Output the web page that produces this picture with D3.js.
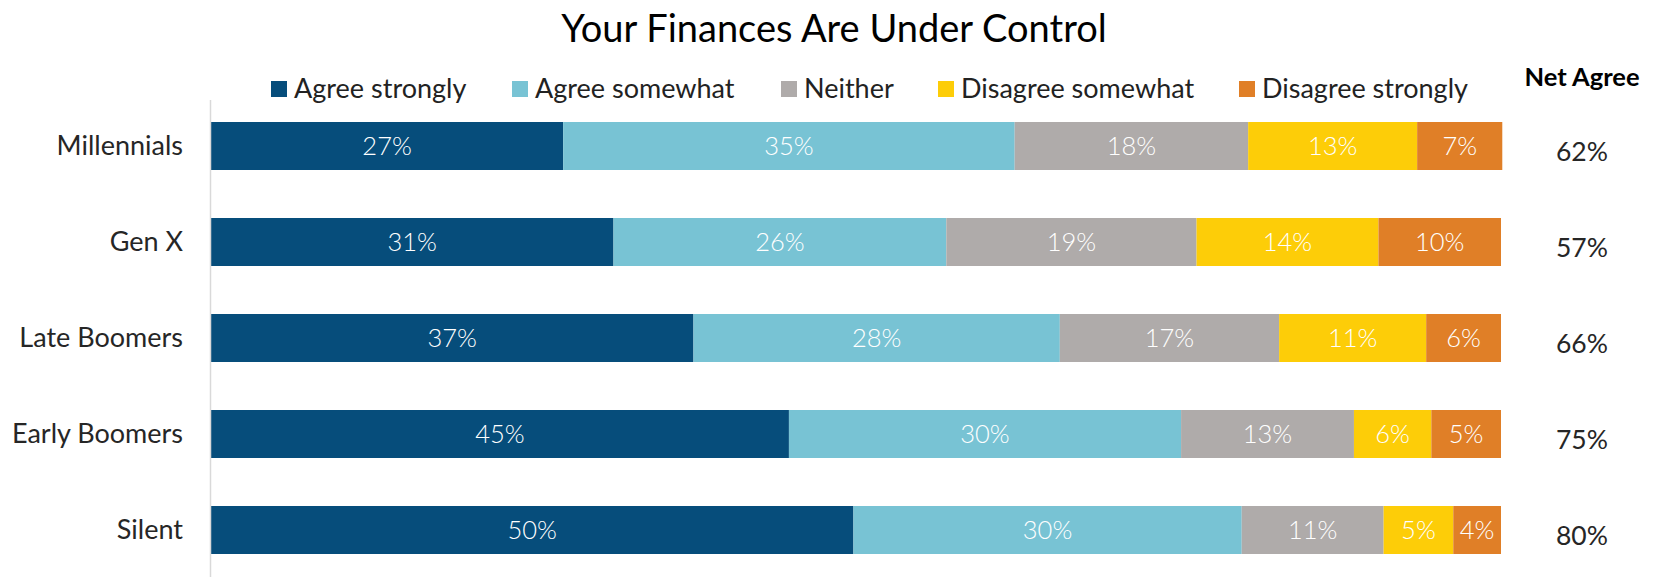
<!DOCTYPE html>
<html>
<head>
<meta charset="utf-8">
<script src="https://cdn.jsdelivr.net/npm/d3@7"></script>
<style>
  body { margin: 0; background: #fff; }
  text { font-family: Lato, "Open Sans", sans-serif; }
</style>
</head>
<body>
<div id="chart"></div>
<script>
var width = 1654, height = 577;

var groups = ["Millennials", "Gen X", "Late Boomers", "Early Boomers", "Silent"];
var responses = ["Agree strongly", "Agree somewhat", "Neither", "Disagree somewhat", "Disagree strongly"];
// shares (labels show them rounded)
var agreeStrongly    = [27.3, 31.2, 37.4, 44.8, 49.8];
var agreeSomewhat    = [35.0, 25.8, 28.4, 30.4, 30.1];
var neither          = [18.1, 19.4, 17.0, 13.4, 11.0];
var disagreeSomewhat = [13.1, 14.1, 11.4, 6.0, 5.4];
var disagreeStrongly = [6.6, 9.5, 5.8, 5.4, 3.7];
var netAgree = [62, 57, 66, 75, 80];
var colors = ["#064d7b", "#78c3d4", "#afabaa", "#fdcd08", "#e07f27"];

var series = [agreeStrongly, agreeSomewhat, neither, disagreeSomewhat, disagreeStrongly];
var rows = groups.map(function(g, i) {
	var r = { group: g };
	responses.forEach(function(k, j) { r[k] = series[j][i]; });
	return r;
});

var layers = d3.stack().keys(responses)(rows);

var x = d3.scaleLinear().domain([0, 100]).range([211, 1501]);
var y = d3.scaleBand().domain(groups).range([98, 578]).paddingInner(0.5).paddingOuter(0.25);
var color = d3.scaleOrdinal().domain(responses).range(colors);

var svg = d3.select("#chart").append("svg")
	.attr("width", width)
	.attr("height", height);

// Title
svg.append("text")
	.attr("x", 834).attr("y", 42)
	.attr("text-anchor", "middle")
	.attr("font-size", 38)
	.attr("fill", "#000")
	.text("Your Finances Are Under Control");

// Legend
var legendX = [271, 512, 781, 938, 1239];
var legend = svg.selectAll(".legend")
	.data(responses).enter()
	.append("g")
	.attr("transform", function(d, i) { return "translate(" + legendX[i] + ",89)"; });
legend.append("rect")
	.attr("x", 0).attr("y", -8)
	.attr("width", 16).attr("height", 16)
	.attr("fill", function(d) { return color(d); });
legend.append("text")
	.attr("x", 23).attr("y", 0)
	.attr("dy", "0.35em")
	.attr("font-size", 27)
	.attr("fill", "#222")
	.text(function(d) { return d; });

svg.append("text")
	.attr("x", 1582).attr("y", 77)
	.attr("dy", "0.35em")
	.attr("text-anchor", "middle")
	.attr("font-size", 25.5)
	.attr("font-weight", 700)
	.attr("fill", "#000")
	.text("Net Agree");

// Bars
var layer = svg.selectAll(".layer")
	.data(layers).enter()
	.append("g")
	.attr("fill", function(d) { return color(d.key); });

layer.selectAll("rect")
	.data(function(d) { return d; }).enter()
	.append("rect")
	.attr("x", function(d) { return x(d[0]); })
	.attr("y", function(d) { return y(d.data.group); })
	.attr("width", function(d) { return x(d[1]) - x(d[0]); })
	.attr("height", y.bandwidth());

layer.selectAll("text")
	.data(function(d) { return d.map(function(p) { return { p: p, key: d.key }; }); }).enter()
	.append("text")
	.attr("x", function(d) { return (x(d.p[0]) + x(d.p[1])) / 2; })
	.attr("y", function(d) { return y(d.p.data.group) + y.bandwidth() / 2; })
	.attr("dy", "0.35em")
	.attr("text-anchor", "middle")
	.attr("font-size", 25.5)
	.attr("font-weight", 300)
	.attr("fill", "#fff")
	.text(function(d) { return Math.round(d.p.data[d.key]) + "%"; });

// Axis line and group labels
svg.append("line")
	.attr("x1", 210.5).attr("x2", 210.5)
	.attr("y1", 100).attr("y2", 577)
	.attr("stroke", "#d9d9d9")
	.attr("stroke-width", 1.5);

var yAxis = svg.append("g")
	.attr("transform", "translate(211,0)")
	.call(d3.axisLeft(y).tickSize(0).tickPadding(28));
yAxis.select(".domain").remove();
yAxis.selectAll("text")
	.attr("font-size", 27)
	.attr("fill", "#262626")
	.style("font-family", "Lato, sans-serif");

// Net agree column
svg.selectAll(".net")
	.data(netAgree).enter()
	.append("text")
	.attr("x", 1582)
	.attr("y", function(d, i) { return y(groups[i]) + y.bandwidth() / 2 + 6; })
	.attr("dy", "0.35em")
	.attr("text-anchor", "middle")
	.attr("font-size", 26.5)
	.attr("fill", "#262626")
	.text(function(d) { return d + "%"; });
</script>
</body>
</html>
